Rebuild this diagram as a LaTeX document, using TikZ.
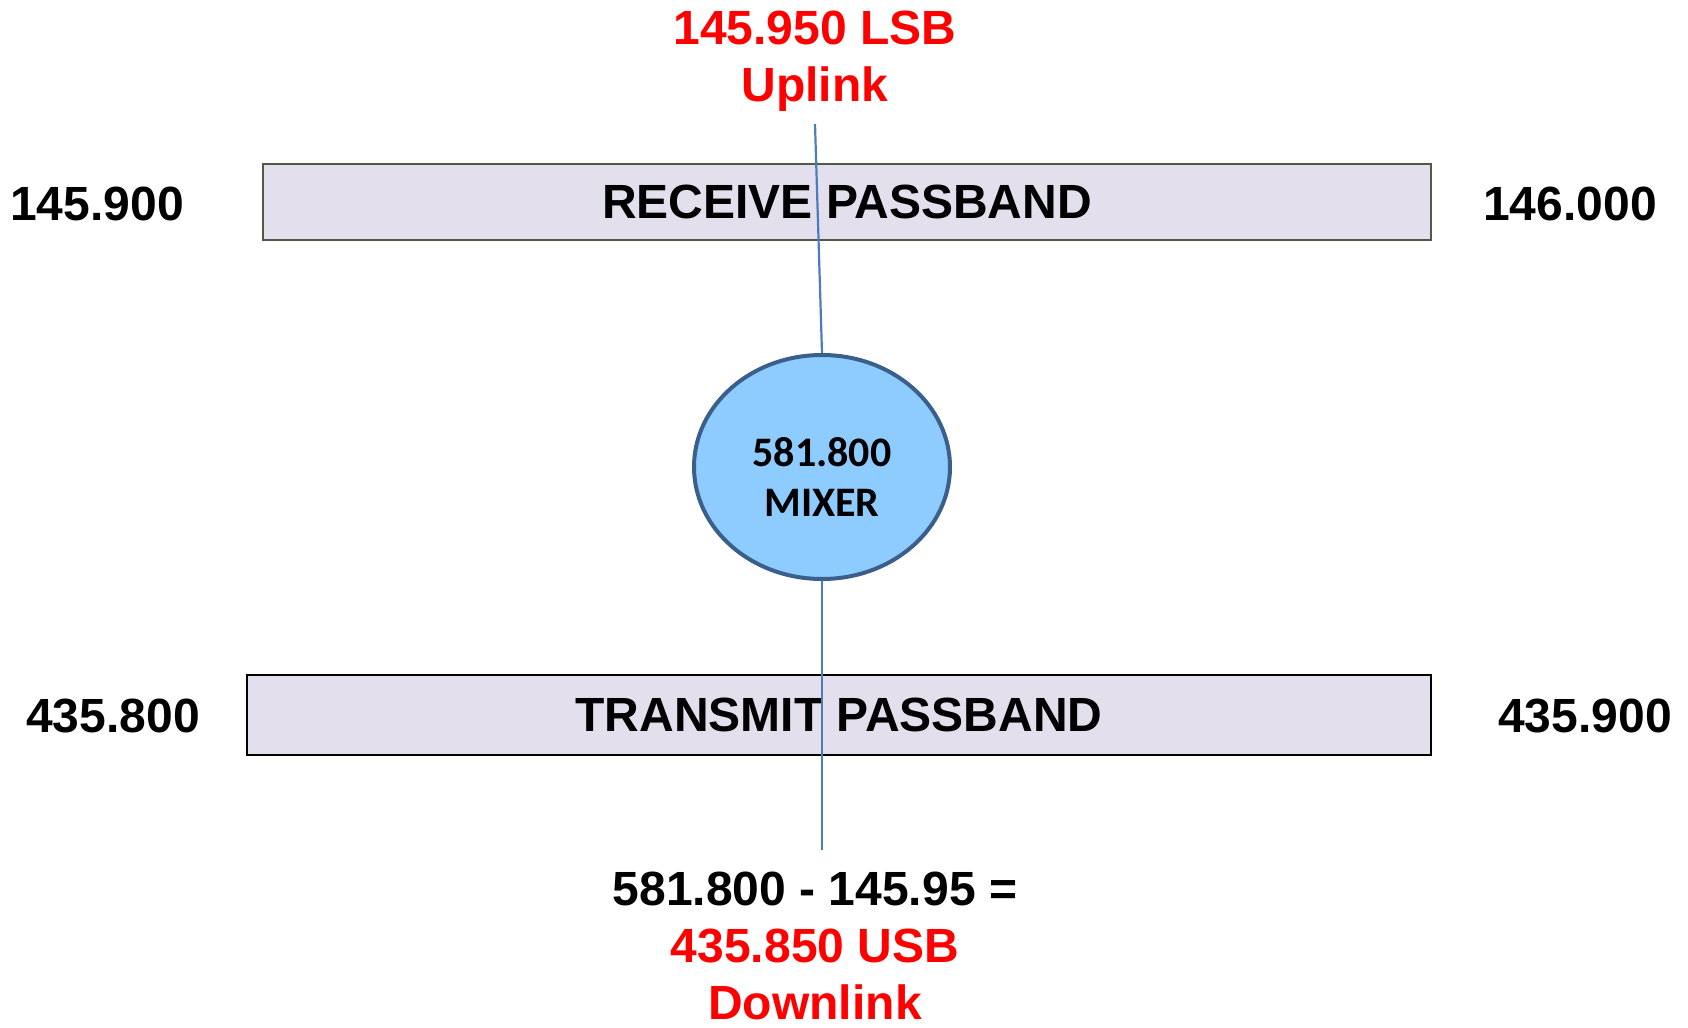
\documentclass[tikz,border=0pt]{standalone}
\usepackage{fontspec}
\setmainfont{Liberation Sans}
\newfontfamily\mixerfont{Carlito}
\usetikzlibrary{shapes.geometric}
\definecolor{bandfill}{HTML}{E4DFEC}
\definecolor{mixfill}{HTML}{8ECBFF}
\definecolor{mixedge}{HTML}{3A5F8B}
\definecolor{sigline}{HTML}{4A7EBB}
\definecolor{rxedge}{HTML}{4E5A45}

\begin{document}
\begin{tikzpicture}[x=0.5pt, y=-0.5pt,
  band/.style={draw, fill=bandfill, line width=1.3pt, inner sep=0pt,
    font=\fontsize{24}{28.5}\selectfont\bfseries},
  freq/.style={anchor=base, inner sep=0pt, font=\fontsize{24}{28.5}\selectfont\bfseries},
  note/.style={anchor=north, inner sep=0pt, align=center,
    font=\fontsize{24}{28.5}\selectfont\bfseries},
  mixer/.style={draw=mixedge, fill=mixfill, ellipse, line width=2pt,
    minimum width=128pt, minimum height=112pt, inner sep=0pt},
  wire/.style={draw=sigline, line width=1.1pt},
]
\useasboundingbox (0,0) rectangle (1688,1028);

% passbands
\node[band, draw=rxedge, minimum width=584pt, minimum height=38pt] (rx) at (847,202) {RECEIVE PASSBAND};
\node[band, draw=black, minimum width=592pt, minimum height=40pt] (tx) at (839,715) {TRANSMIT PASSBAND};

% band edges
\node[freq] (rxlo) at (97,220)   {145.900};
\node[freq] (rxhi) at (1570,220) {146.000};
\node[freq] (txlo) at (113,732)  {435.800};
\node[freq] (txhi) at (1585,732) {435.900};

% mixer
\node[mixer] (mixer) at (822,467) {};
\node[inner sep=0pt, align=center, font=\mixerfont\fontsize{21}{25}\selectfont\bfseries]
  (mixtext) at (822,477) {581.800\\MIXER};

% labels
\node[note, text=red] (uplink) at (815,11) {145.950 LSB\\Uplink};
\node[note] (downlink) at (815,872)
  {581.800 - 145.95 =\\\textcolor{red}{435.850 USB}\\\textcolor{red}{Downlink}};

\coordinate (uptip) at (815,124);
\coordinate (downtip) at (822,850);

\draw[wire] (uptip) -- (mixer.north);
\draw[wire] (mixer.south) -- (downtip);
\end{tikzpicture}
\end{document}
